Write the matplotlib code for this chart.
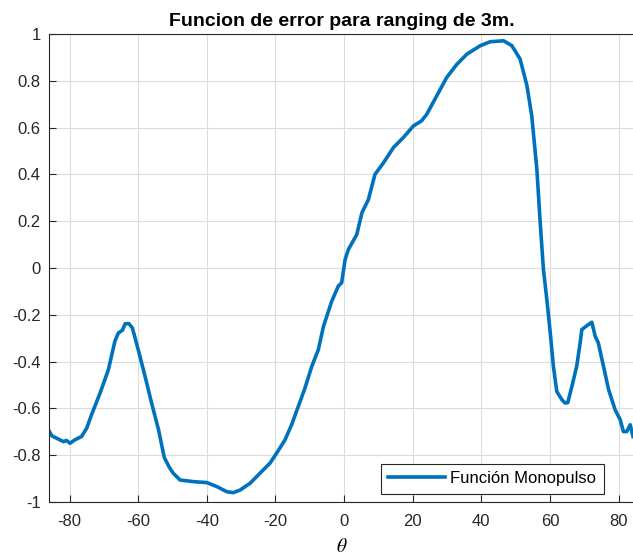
import matplotlib
matplotlib.use("Agg")
import matplotlib.pyplot as plt

theta = [-86.2, -85.2, -83.3, -81.8, -80.9, -79.9, -78.4, -76.5, -75.0, -73.6, -71.1,
         -68.7, -66.8, -65.8, -64.6, -63.8, -62.7, -61.7, -60.0, -58.0, -56.1, -54.1,
         -52.4, -51.0, -49.8, -47.8, -43.9, -40.0, -37.1, -34.2, -32.3, -30.3, -27.4,
         -24.5, -21.6, -19.6, -17.2, -15.3, -13.3, -11.4, -9.4, -7.5, -6.0, -3.6, -1.7,
         -0.7, 0.3, 1.25, 3.7, 5.2, 7.1, 9.0, 11.5, 14.4, 17.3, 20.2, 22.6, 24.1, 26.5,
         29.9, 32.9, 35.8, 39.7, 42.6, 46.5, 48.9, 51.3, 53.3, 54.7, 56.2, 57.1, 58.1,
         59.1, 60.1, 61.0, 62.0, 63.5, 64.4, 65.2, 66.4, 67.8, 68.8, 69.3, 70.8, 72.2,
         73.2, 74.1, 75.6, 77.1, 79.0, 80.5, 81.4, 82.4, 83.4, 84.2]
error = [-0.69, -0.717, -0.731, -0.742, -0.737, -0.749, -0.734, -0.72, -0.684, -0.627, -0.534,
         -0.435, -0.313, -0.278, -0.266, -0.238, -0.238, -0.256, -0.349, -0.463, -0.577, -0.69,
         -0.81, -0.85, -0.877, -0.906, -0.913, -0.917, -0.934, -0.956, -0.96, -0.949, -0.92,
         -0.877, -0.834, -0.79, -0.734, -0.67, -0.59, -0.513, -0.42, -0.349, -0.249, -0.142, -0.078,
         -0.063, 0.036, 0.079, 0.143, 0.236, 0.293, 0.40, 0.45, 0.515, 0.558, 0.607, 0.629, 0.657, 0.722,
         0.814, 0.871, 0.914, 0.95, 0.967, 0.971, 0.95, 0.893, 0.779, 0.65, 0.42, 0.208, -0.006,
         -0.135, -0.278, -0.42, -0.528, -0.563, -0.577, -0.575, -0.506, -0.42, -0.32, -0.263, -0.246, -0.232,
         -0.292, -0.32, -0.42, -0.52, -0.606, -0.649, -0.699, -0.699, -0.67, -0.72]

xticks = [-80, -60, -40, -20, 0, 20, 40, 60, 80]
yticks = [-1, -0.8, -0.6, -0.4, -0.2, 0, 0.2, 0.4, 0.6, 0.8, 1]
ytick_labels = ["-1", "-0.8", "-0.6", "-0.4", "-0.2", "0", "0.2", "0.4", "0.6", "0.8", "1"]
xtick_labels = ["-80", "-60", "-40", "-20", "0", "20", "40", "60", "80"]

plt.rcParams['font.family'] = ['Liberation Sans', 'DejaVu Sans']
plt.rcParams['axes.unicode_minus'] = False
plt.rcParams['mathtext.fontset'] = 'stix'

W, H = 633, 558
left, right, top, bottom = 49, 634, 34, 502
fig = plt.figure(figsize=(W / 100, H / 100), dpi=100)
ax = fig.add_axes([left / W, 1 - bottom / H, (right - left) / W, (bottom - top) / H])

ax.plot(theta, error, color='#0072BD', linewidth=2.6, label='Función Monopulso',
        solid_joinstyle='round')
ax.set_xlim(-86.0, 84.5)
ax.set_ylim(-1, 1)
ax.set_xticks(xticks)
ax.set_xticklabels(xtick_labels)
ax.set_yticks(yticks)
ax.set_yticklabels(ytick_labels)
ax.grid(True, color='#dcdcdc', linewidth=0.8)
ax.set_axisbelow(True)
ax.tick_params(direction='in', length=5, labelsize=12, colors='#262626', width=0.8)
ax.tick_params(axis='x', pad=9)
ax.tick_params(axis='y', pad=6)
for s in ax.spines.values():
    s.set_color('#262626')
    s.set_linewidth(0.8)

ax.set_title('Funcion de error para ranging de 3m.', fontsize=14, fontweight='bold', pad=6)
ax.set_xlabel(r'$\theta$', fontsize=14, labelpad=6)

leg = ax.legend(loc='lower right', bbox_to_anchor=(603.5 / W, 1 - 493.5 / H),
                bbox_transform=fig.transFigure, borderaxespad=0,
                fontsize=12, fancybox=False, edgecolor='#262626', framealpha=1,
                handlelength=3.4, handletextpad=0.3, borderpad=0.45)
leg.get_frame().set_linewidth(0.8)

fig.savefig('out.png', dpi=100)
